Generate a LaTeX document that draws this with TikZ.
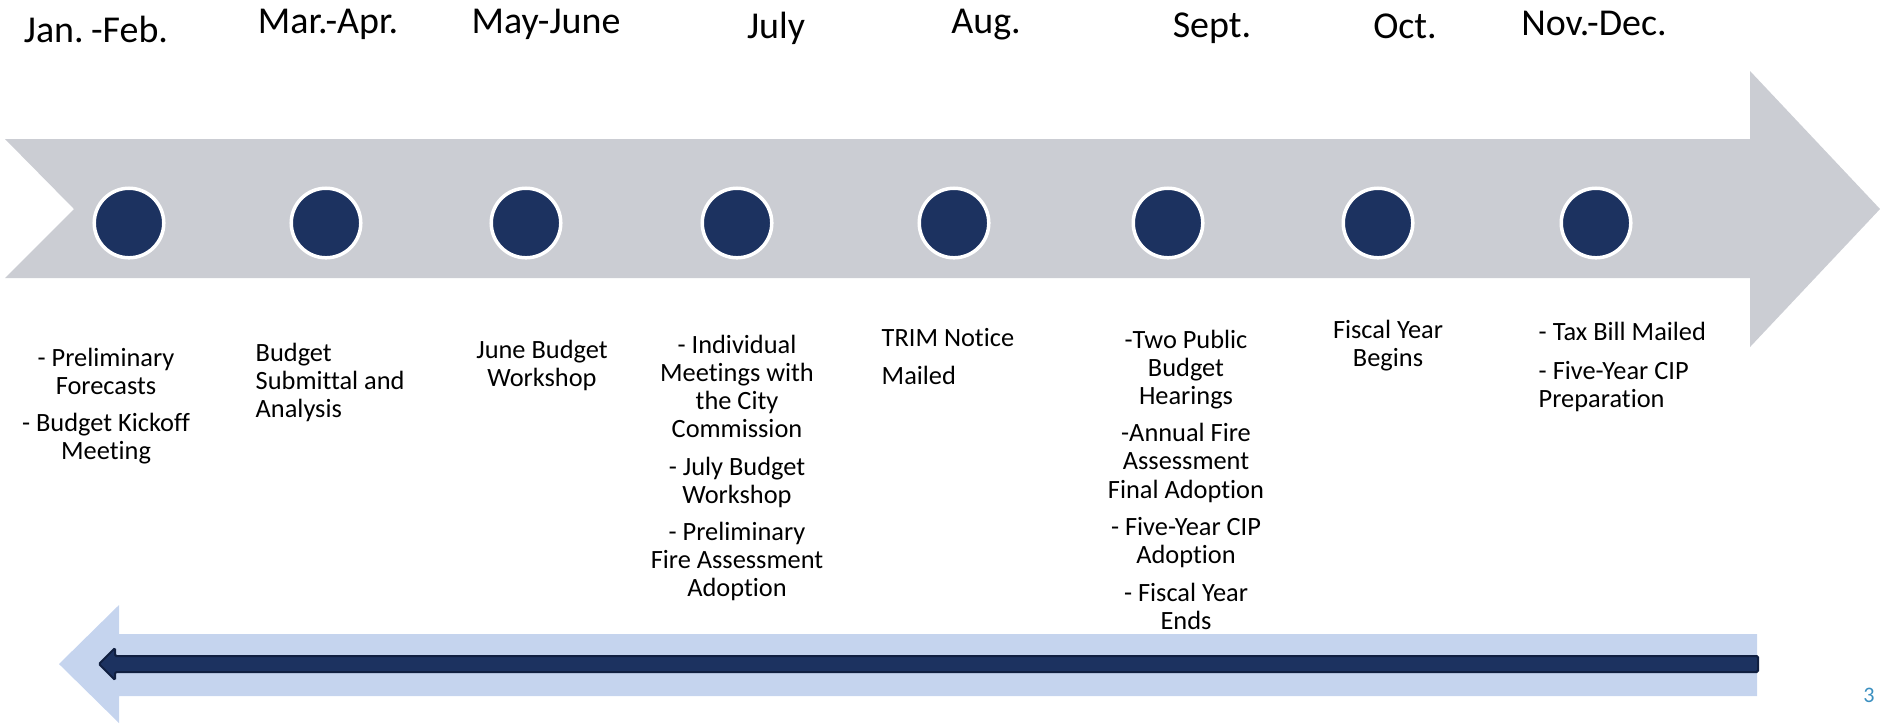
\documentclass[tikz,border=0pt]{standalone}
\usepackage{fontspec}
\setmainfont{Carlito}[Ligatures=NoCommon]
\definecolor{arrowgray}{RGB}{203,205,211}
\definecolor{navy}{RGB}{28,50,96}
\definecolor{navyedge}{RGB}{16,31,64}
\definecolor{paleblue}{RGB}{197,212,238}
\definecolor{pagenum}{RGB}{58,143,192}
\newcommand\monthfont{\fontsize{10.8}{13}\selectfont\spaceskip 0.12em\relax}

\begin{document}
\begin{tikzpicture}[x=0.01cm,y=-0.01cm,
            month node/.style={anchor=base,inner sep=0,font=\monthfont},
            dot node/.style={circle,fill=navy,draw=white,line width=0.035cm,minimum size=0.695cm,inner sep=0},
            note node/.style={anchor=north,inner sep=0,align=center,font=\fontsize{7.5}{7.97}\selectfont},
            left note/.style={note node,anchor=north west,align=left}]

        \useasboundingbox (0,0) rectangle (1880,723);

        % Define arrows
        \fill[arrowgray] (5,139) -- (1750,139) -- (1750,71) -- (1880,209) -- (1750,347)
            -- (1750,278) -- (5,278) -- (74,209) -- cycle;
        \fill[paleblue] (1757,634) -- (119,634) -- (119,605) -- (59,664) -- (119,723)
            -- (119,696) -- (1757,696) -- cycle;
        \draw[navyedge,fill=navy,line width=0.02cm,rounded corners=0.4pt]
            (1758,656) -- (115,656) -- (115,648) -- (99,664) -- (115,680)
            -- (115,672) -- (1758,672) -- cycle;

        % Define months
        \node[month node] (janfeb) at (96,42) {Jan. -Feb.};
        \node[month node] (marapr) at (328,33) {Mar.-Apr.};
        \node[month node] (mayjune) at (546,33) {May-June};
        \node[month node] (july) at (776,38) {July};
        \node[month node] (aug) at (986,33) {Aug.};
        \node[month node] (sept) at (1212,37) {Sept.};
        \node[month node] (oct) at (1405,38) {Oct.};
        \node[month node] (novdec) at (1594,35) {Nov.-Dec.};

        % Define dots
        \node[dot node] (janfeb dot) at (129,223) {};
        \node[dot node] (marapr dot) at (326,223) {};
        \node[dot node] (mayjune dot) at (526,223) {};
        \node[dot node] (july dot) at (737,223) {};
        \node[dot node] (aug dot) at (954,223) {};
        \node[dot node] (sept dot) at (1168,223) {};
        \node[dot node] (oct dot) at (1378,223) {};
        \node[dot node] (novdec dot) at (1596,223) {};

        % Define notes
        \node[note node] (janfeb note) at (106,347)
            {- Preliminary\\ Forecasts\\[2.8pt] - Budget Kickoff\\ Meeting};
        \node[left note] (marapr note) at (255,342)
            {Budget\\ Submittal and\\ Analysis};
        \node[note node] (mayjune note) at (542,339)
            {June Budget\\ Workshop};
        \node[note node] (july note) at (737,334)
            {- Individual\\ Meetings with\\ the City\\ Commission\\[2.8pt]
             - July Budget\\ Workshop\\[2.8pt] - Preliminary\\ Fire Assessment\\ Adoption};
        \node[left note] (aug note) at (881,328)
            {TRIM Notice\\[2.8pt] Mailed};
        \node[note node] (sept note) at (1186,329)
            {-Two Public\\ Budget\\ Hearings\\[2.8pt] -Annual Fire\\ Assessment\\ Final Adoption\\[2.8pt]
             - Five-Year CIP\\ Adoption\\[2.8pt] - Fiscal Year\\ Ends};
        \node[note node] (oct note) at (1388,319)
            {Fiscal Year\\ Begins};
        \node[left note] (novdec note) at (1538,321)
            {- Tax Bill Mailed\\[3.3pt] - Five-Year CIP\\ Preparation};

        \node[anchor=base,inner sep=0,text=pagenum,font=\fontsize{6.3}{7}\selectfont] (page) at (1869,702) {3};

        \end{tikzpicture}
\end{document}
